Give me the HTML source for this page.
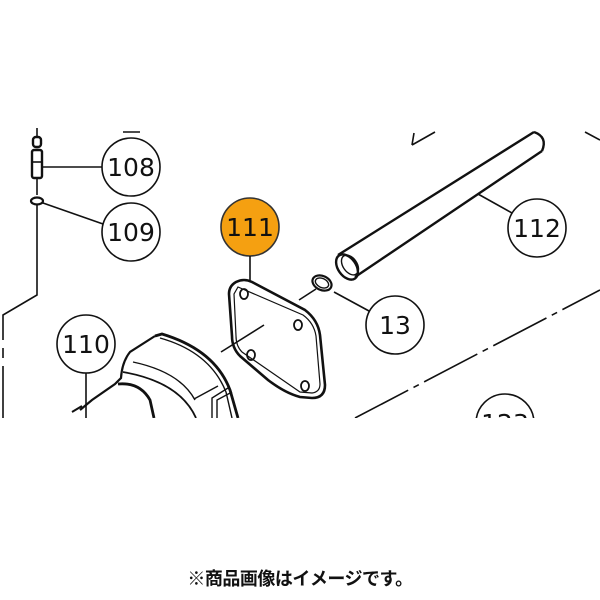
<!DOCTYPE html>
<html><head><meta charset="utf-8"><style>
html,body{margin:0;padding:0;background:#fff;width:600px;height:600px;overflow:hidden}
.cap{position:absolute;left:0;width:600px;top:565px;text-align:center;font:bold 18px "Liberation Sans","Noto Sans CJK JP",sans-serif;color:#111;letter-spacing:-0.5px}
</style></head><body>
<svg width="600" height="600" viewBox="0 0 600 600" style="position:absolute;left:0;top:0">
<defs><clipPath id="c"><rect x="0" y="0" width="600" height="418"/></clipPath></defs>
<g clip-path="url(#c)" fill="none" stroke="#111" stroke-width="1.6">
<line x1="123" y1="132" x2="140" y2="132"/>
<path d="M412 145 L414 133 M412 145 L435 132"/>
<line x1="585" y1="132" x2="600" y2="140"/>
<line x1="37" y1="128" x2="37" y2="137"/>
<rect x="33" y="137" width="8" height="10" rx="3" stroke-width="2.4"/>
<rect x="32" y="150" width="10" height="28" rx="2" stroke-width="2.4"/>
<line x1="32" y1="162" x2="42" y2="162"/>
<line x1="42" y1="167" x2="102" y2="167"/>
<line x1="37" y1="178" x2="37" y2="195"/>
<ellipse cx="37" cy="201" rx="6" ry="3.5" stroke-width="2.2"/>
<line x1="43" y1="203" x2="103" y2="224"/>
<path d="M37 205 L37 295 L3 315 L3 340"/>
<path d="M3 348 L3 358 M3 366 L3 418" />
<circle cx="131" cy="167" r="29"/>
<circle cx="131" cy="232" r="29"/>
<circle cx="250" cy="227" r="29" fill="#f5a011" stroke="#333"/>
<circle cx="86" cy="344" r="29"/>
<circle cx="537" cy="228" r="29"/>
<circle cx="395" cy="325" r="29"/>
<circle cx="505" cy="423" r="29"/>
<g fill="#111" stroke="none" font-size="25" text-anchor="middle" font-family="DejaVu Sans, sans-serif">
<text x="131" y="176">108</text>
<text x="131" y="241">109</text>
<text x="250" y="236">111</text>
<text x="86" y="353">110</text>
<text x="537" y="237">112</text>
<text x="395" y="334">13</text>
<text x="505" y="432">123</text>
</g>
<line x1="86" y1="373" x2="86" y2="418"/>
<!-- tube 112 -->
<path d="M338 255 L534 132 M355 277 L542 151" stroke-width="2.4"/>
<path d="M534 132 Q548 137 542 151" stroke-width="2.4"/>
<ellipse cx="347" cy="267" rx="9" ry="14" transform="rotate(-35 347 267)" stroke-width="2.4"/>
<ellipse cx="350" cy="265" rx="7" ry="11" transform="rotate(-35 350 265)" stroke-width="1.4"/>
<line x1="478" y1="194" x2="512" y2="213"/>
<ellipse cx="322" cy="283" rx="10" ry="7" transform="rotate(25 322 283)" stroke-width="2.2"/>
<ellipse cx="322" cy="283" rx="7" ry="4.5" transform="rotate(25 322 283)" stroke-width="1.4"/>
<line x1="299" y1="300" x2="316" y2="289"/>
<line x1="334" y1="292" x2="369" y2="311"/>
<!-- gasket -->
<line x1="250" y1="256" x2="250" y2="281"/>
<path d="M236 282 Q244 278 252 282 L305 310 Q318 320 320 335 L325 385 Q325 398 312 398 L300 397 Q285 393 268 380 L240 356 Q232 348 232 336 L229 294 Q229 286 236 282 Z" stroke-width="2.6"/>
<path d="M238 287 L303 315 Q314 323 316 336 L320 384 Q320 392 312 393 L300 392 L242 352 Q236 346 236 336 L234 294 Z" stroke-width="1.2"/>
<ellipse cx="244" cy="294" rx="4" ry="5" stroke-width="1.8"/>
<ellipse cx="298" cy="325" rx="4" ry="5" stroke-width="1.8"/>
<ellipse cx="251" cy="355" rx="4" ry="5" stroke-width="1.8"/>
<ellipse cx="305" cy="386" rx="4" ry="5" stroke-width="1.8"/>
<line x1="221" y1="352" x2="264" y2="325"/>
<!-- housing 110 -->
<path d="M155 336 L162 334 Q215 350 230 390 L238 418" stroke-width="2.8"/>
<path d="M160 338 Q210 352 226 392 L232 418" stroke-width="1.4"/>
<path d="M155 336 L130 352 Q122 362 121 378 L115 384 L92 400 L80 410" stroke-width="2.2"/>
<path d="M133 362 Q180 372 195 400" stroke-width="1.4"/>
<path d="M123 372 Q180 382 196 418" stroke-width="1.8"/>
<path d="M118 384 Q140 382 150 400 L154 418" stroke-width="2.8"/>
<path d="M194 399 L218 386" stroke-width="1.4"/>
<path d="M228 388 L212 398 L212 418" stroke-width="1.4"/>
<path d="M232 392 L217 400 L217 418" stroke-width="1.4"/>
<path d="M72 412 L82 406" stroke-width="2"/>
<path d="M355 418 L600 290" stroke-dasharray="60 6 6 6" stroke-width="1.6"/>
</g>
</svg>
<div class="cap">※商品画像はイメージです。</div>
</body></html>
